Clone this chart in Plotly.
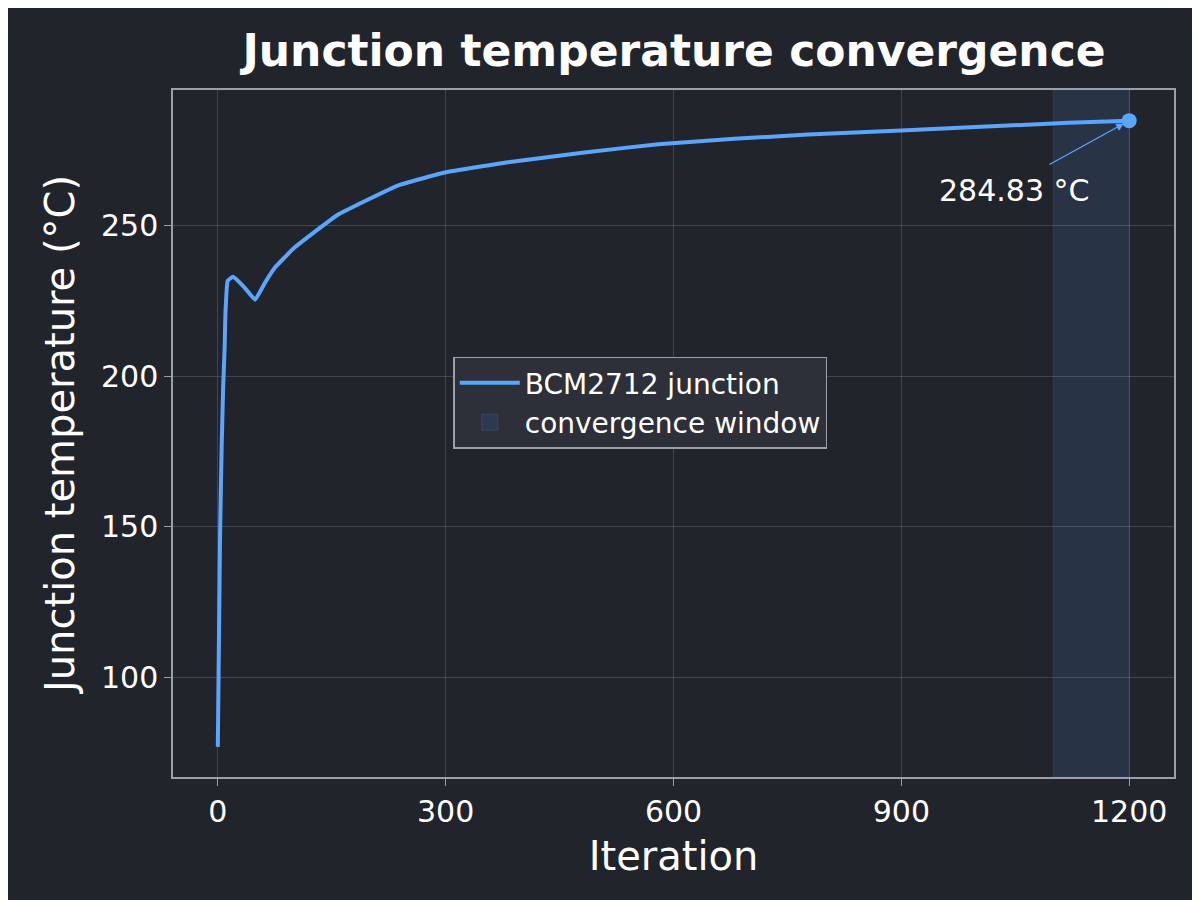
import plotly.graph_objects as go

# values
iteracao = [0, 3, 5, 7, 9, 10, 13, 20, 35, 49, 62, 75, 101, 158, 237, 299, 382, 480, 580, 680, 777, 900, 1040, 1120, 1200]
temperatura = [77, 148, 176, 196, 209.5, 220.5, 231.7, 233, 229.5, 225.4, 231, 236, 242.7, 253.6, 263.3, 267.6, 271, 274.2, 277, 278.8, 280.2, 281.6, 283.2, 284.1, 284.83]
janela = [1100, 1200]
ticks_x = [0, 300, 600, 900, 1200]
ticks_y = [100, 150, 200, 250]

fundo = '#21242b'
azul = '#58a6ff'
grade = 'rgba(255,255,255,0.15)'

fig = go.Figure()
fig.add_vrect(x0=janela[0], x1=janela[1], fillcolor='#2b3a52', opacity=0.7,
              line=dict(color='#3a4660', width=1), layer='below')
fig.add_trace(go.Scatter(x=iteracao, y=temperatura, mode='lines', name='BCM2712 junction',
                         line=dict(color=azul, width=4, shape='spline', smoothing=0.3)))
fig.add_trace(go.Scatter(x=[None], y=[None], mode='markers', name='convergence window',
                         marker=dict(symbol='square', size=22, color='#2b3a52',
                                     line=dict(color='#3a4660', width=1))))
fig.add_trace(go.Scatter(x=[iteracao[-1]], y=[temperatura[-1]], mode='markers', showlegend=False,
                         marker=dict(color=azul, size=15)))
fig.add_annotation(x=iteracao[-1], y=temperatura[-1], ax=1093, ay=270, axref='x', ayref='y',
                   text='', showarrow=True, arrowhead=2, arrowsize=1.2, arrowwidth=1.3, arrowcolor=azul,
                   standoff=6)
fig.add_annotation(x=1150, y=261.5, text=f'{temperatura[-1]:.2f} °C', showarrow=False,
                   xanchor='right', yanchor='middle', font=dict(size=30, color='white'))

eixo = dict(showgrid=True, gridcolor=grade, zeroline=False, showline=True, mirror=True,
            linecolor='#9aa0aa', linewidth=1.5, ticks='outside', tickcolor='#9aa0aa', ticklen=7,
            tickfont=dict(size=30, color='white'))
fig.update_xaxes(eixo, range=[-59, 1259], tickvals=ticks_x,
                 title=dict(text='Iteration', font=dict(size=40, color='white'), standoff=14))
fig.update_yaxes(eixo, range=[67, 295], tickvals=ticks_y,
                 title=dict(text='Junction temperature (°C)', font=dict(size=40, color='white'), standoff=14))
fig.update_layout(
    width=1200, height=900, paper_bgcolor=fundo, plot_bgcolor=fundo,
    font=dict(family='DejaVu Sans', color='white'),
    title=dict(text='<b>Junction temperature convergence</b>', x=0.555, xanchor='center', y=0.97,
               font=dict(size=44, color='white')),
    margin=dict(l=165, r=34, t=82, b=131),
    legend=dict(x=0.28, y=0.545, xanchor='left', yanchor='middle', bgcolor='#2d3038',
                bordercolor='#9aa0aa', borderwidth=1.5, font=dict(size=28, color='white'),
                itemwidth=60, tracegroupgap=10),
)
fig.write_html('out.html')
